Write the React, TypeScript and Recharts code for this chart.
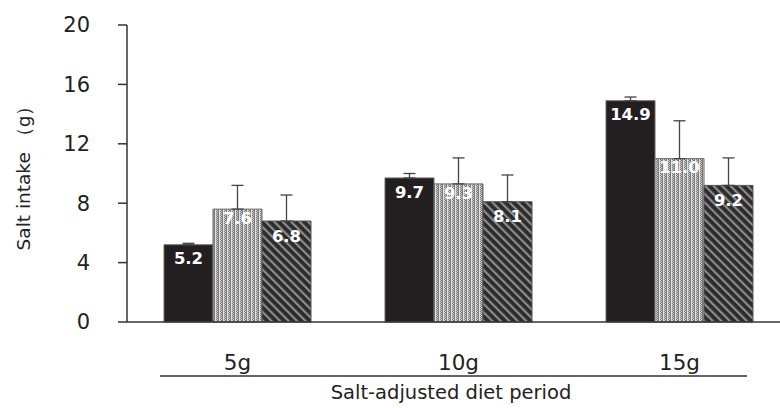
import { BarChart, Bar, XAxis, YAxis, ErrorBar, LabelList } from 'recharts';

const periods = ['5g', '10g', '15g'];
const seriesA = [5.2, 9.7, 14.9];
const seriesB = [7.6, 9.3, 11.0];
const seriesC = [6.8, 8.1, 9.2];
const errA = [0.1, 0.3, 0.25];
const errB = [1.6, 1.75, 2.55];
const errC = [1.75, 1.8, 1.85];
const yTicks = [0, 4, 8, 12, 16, 20];

const data = periods.map((p, i) => ({
  period: p,
  a: seriesA[i],
  b: seriesB[i],
  c: seriesC[i],
  ea: [0, errA[i]],
  eb: [0, errB[i]],
  ec: [0, errC[i]],
}));

const font = '"DejaVu Sans", Verdana, sans-serif';

const fmt = (v: any) => Number(v).toFixed(1);

const labelStyle = {
  fill: '#fff',
  fontSize: 16.5,
  fontWeight: 700,
  fontFamily: font,
};

// group line + axis title drawn under the tick labels
const PeriodTitle = () => (
  <g>
    <line x1={160} x2={747} y1={376} y2={376} stroke="#333" strokeWidth={1.5} />
    <text
      x={451}
      y={399}
      textAnchor="middle"
      fontSize={19.5}
      fontFamily={font}
      fill="#222"
    >
      Salt-adjusted diet period
    </text>
  </g>
);

export default function App() {
  return (
    <div
      style={{
        position: 'absolute',
        left: 0,
        top: 0,
        width: 780,
        height: 408,
        overflow: 'hidden',
        background: '#fff',
      }}
    >
      <BarChart
        width={800}
        height={408}
        data={data}
        margin={{ top: 25, right: 10, bottom: 0, left: 0 }}
        barGap={0}
        barSize={49}
      >
        <defs>
          <pattern id="checks" width="4" height="2" patternUnits="userSpaceOnUse">
            <rect width="4" height="2" fill="#7a7a7a" />
            <rect x="0" y="0" width="1" height="1" fill="#cfcfcf" />
            <rect x="1" y="1" width="1" height="1" fill="#cfcfcf" />
            <rect x="3" y="0" width="1" height="2" fill="#e4e4e4" />
          </pattern>
          <pattern
            id="stripes"
            width="6"
            height="6"
            patternUnits="userSpaceOnUse"
            patternTransform="rotate(-45)"
          >
            <rect width="6" height="6" fill="#2b2b2b" />
            <rect x="0" y="0" width="2.2" height="6" fill="#8c8c8c" />
          </pattern>
        </defs>
        <XAxis
          dataKey="period"
          axisLine={{ stroke: '#333', strokeWidth: 1.5 }}
          tickLine={false}
          tickSize={0}
          tickMargin={33}
          height={86}
          tick={{ fill: '#222', fontSize: 21.5, fontFamily: font }}
          label={{ content: () => <PeriodTitle /> }}
        />
        <YAxis
          domain={[0, 20]}
          ticks={yTicks}
          width={127}
          axisLine={{ stroke: '#333', strokeWidth: 1.5 }}
          tickLine={{ stroke: '#333', strokeWidth: 1.5 }}
          tickSize={9}
          tickMargin={28}
          tick={{ fill: '#222', fontSize: 21, fontFamily: font }}
          label={{
            value: 'Salt intake （g）',
            angle: -90,
            position: 'insideLeft',
            offset: 23,
            style: { fill: '#222', fontSize: 18.5, fontFamily: font, textAnchor: 'middle' },
          }}
        />
        <Bar dataKey="a" fill="#231f20" stroke="#666" strokeWidth={1} isAnimationActive={false}>
          <ErrorBar dataKey="ea" direction="y" width={6} stroke="#444" strokeWidth={1.3} />
          <LabelList dataKey="a" position="insideTop" offset={8} formatter={fmt} style={labelStyle} />
        </Bar>
        <Bar dataKey="b" fill="url(#checks)" stroke="#666" strokeWidth={1} isAnimationActive={false}>
          <ErrorBar dataKey="eb" direction="y" width={6} stroke="#444" strokeWidth={1.3} />
          <LabelList dataKey="b" position="insideTop" offset={3} formatter={fmt} style={labelStyle} />
        </Bar>
        <Bar dataKey="c" fill="url(#stripes)" stroke="#555" strokeWidth={1} isAnimationActive={false}>
          <ErrorBar dataKey="ec" direction="y" width={6} stroke="#444" strokeWidth={1.3} />
          <LabelList dataKey="c" position="insideTop" offset={9} formatter={fmt} style={labelStyle} />
        </Bar>
      </BarChart>
    </div>
  );
}
